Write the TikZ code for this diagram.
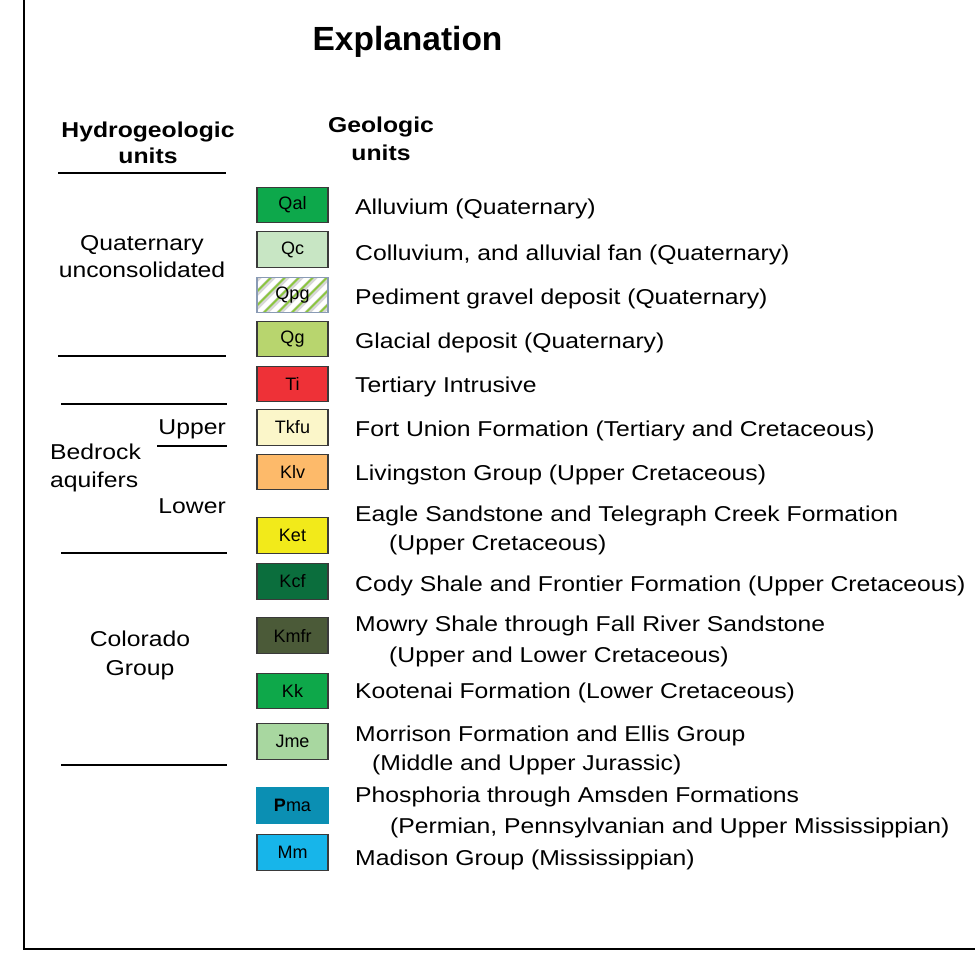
\documentclass[tikz,border=0pt]{standalone}
\usepackage{fontspec}
\setmainfont{Liberation Sans}
\newfontfamily\bodyfont{Liberation Sans}[FakeStretch=1.15]
\newfontfamily\plainfont{Liberation Sans}
\definecolor{boxedge}{HTML}{3A3A3A}
\definecolor{cQal}{HTML}{0DA84B}
\definecolor{cQc}{HTML}{C8E6C4}
\definecolor{cQpg}{HTML}{D6D6D6}
\definecolor{cQpgedge}{HTML}{8A9BB5}
\definecolor{cQpggreen}{HTML}{8CC63F}
\definecolor{cQg}{HTML}{B8D56E}
\definecolor{cTi}{HTML}{EE3137}
\definecolor{cTkfu}{HTML}{FBF6C9}
\definecolor{cKlv}{HTML}{FDBA6A}
\definecolor{cKet}{HTML}{F2EA1A}
\definecolor{cKcf}{HTML}{0B6E3D}
\definecolor{cKmfr}{HTML}{4B5A38}
\definecolor{cKk}{HTML}{0EA84A}
\definecolor{cJme}{HTML}{A8D7A0}
\definecolor{cPma}{HTML}{0B8FB3}
\definecolor{cMm}{HTML}{17B5EA}
\begin{document}
\begin{tikzpicture}[x=1pt,y=-1pt,
  unitbox/.style={draw=boxedge, line width=1.1pt, minimum width=71pt, minimum height=35.5pt, inner sep=0pt, font=\plainfont\fontsize{18}{20}\selectfont},
  lbl/.style={anchor=base west, inner sep=0pt, font=\bodyfont\fontsize{21.5}{26}\selectfont},
  side/.style={anchor=base, inner sep=0pt, font=\bodyfont\fontsize{21.5}{26}\selectfont},
  hdr/.style={anchor=base, inner sep=0pt, font=\bodyfont\bfseries\fontsize{21.5}{26}\selectfont},
  rulel/.style={line width=2.4pt}]
\useasboundingbox (0,0) rectangle (975,961);
\fill[white] (0,0) rectangle (975,961);
% frame
\draw[line width=2.6pt] (24,-3) -- (24,949) -- (978,949);
% title and headers
\node[anchor=base, inner sep=0pt, font=\plainfont\bfseries\fontsize{33.5}{40}\selectfont] (title) at (407.5,50) {Explanation};
\node[hdr] (hyd1) at (148,137) {Hydrogeologic};
\node[hdr] (hyd2) at (148,163) {units};
\node[hdr] (geo1) at (381,132) {Geologic};
\node[hdr] (geo2) at (381,160) {units};
% rules
\draw[rulel] (58,173) -- (226,173);
\draw[rulel] (58,356) -- (226,356);
\draw[rulel] (61,404) -- (227,404);
\draw[rulel] (157,446) -- (227,446);
\draw[rulel] (61,553) -- (227,553);
\draw[rulel] (61,765) -- (227,765);
% left labels
\node[side] (quat1) at (142,250) {Quaternary};
\node[side] (quat2) at (142,277) {unconsolidated};
\node[lbl, anchor=base east] (upper) at (226,434) {Upper};
\node[lbl] (bed1) at (50,459) {Bedrock};
\node[lbl] (bed2) at (50,487) {aquifers};
\node[lbl, anchor=base east] (lower) at (226,513) {Lower};
\node[side] (col1) at (140,646) {Colorado};
\node[side] (col2) at (140,675) {Group};
% boxes
\node[unitbox, fill=cQal] (qal) at (292.5,205) {Qal};
\node[unitbox, fill=cQc] (qc) at (292.5,249.5) {Qc};
\fill[cQpg] (257,277.25) rectangle (328,312.75);
\begin{scope}
  \clip (257,277.25) rectangle (328,312.75);
  \foreach \s in {-42,-28,...,84} {
    \draw[white, line width=4.5pt] (257+\s,314) -- ++(38,-38);
    \draw[cQpggreen, line width=1.8pt] (257+\s+5.5,314) -- ++(38,-38);
  }
\end{scope}
\node[unitbox, draw=cQpgedge] (qpg) at (292.5,295) {Qpg};
\node[unitbox, fill=cQg] (qg) at (292.5,339) {Qg};
\node[unitbox, fill=cTi] (ti) at (292.5,384) {Ti};
\node[unitbox, fill=cTkfu] (tkfu) at (292.5,427.5) {Tkfu};
\node[unitbox, fill=cKlv] (klv) at (292.5,472) {Klv};
\node[unitbox, fill=cKet] (ket) at (292.5,535.5) {Ket};
\node[unitbox, fill=cKcf] (kcf) at (292.5,581.5) {Kcf};
\node[unitbox, fill=cKmfr] (kmfr) at (292.5,635.5) {Kmfr};
\node[unitbox, fill=cKk] (kk) at (292.5,691) {Kk};
\node[unitbox, fill=cJme] (jme) at (292.5,741.5) {Jme};
\node[unitbox, fill=cPma, draw=cPma] (pma) at (292.5,805.5) {{\bfseries P}ma};
\node[unitbox, fill=cMm] (mm) at (292.5,852.5) {Mm};
% descriptions
\node[lbl] (tqal) at (355,214) {Alluvium (Quaternary)};
\node[lbl] (tqc) at (355,260) {Colluvium, and alluvial fan (Quaternary)};
\node[lbl] (tqpg) at (355,304) {Pediment gravel deposit (Quaternary)};
\node[lbl] (tqg) at (355,348) {Glacial deposit (Quaternary)};
\node[lbl] (tti) at (355,392) {Tertiary Intrusive};
\node[lbl] (ttkfu) at (355,436) {Fort Union Formation (Tertiary and Cretaceous)};
\node[lbl] (tklv) at (355,480) {Livingston Group (Upper Cretaceous)};
\node[lbl] (tket1) at (355,521) {Eagle Sandstone and Telegraph Creek Formation};
\node[lbl] (tket2) at (389,550) {(Upper Cretaceous)};
\node[lbl] (tkcf) at (355,591) {Cody Shale and Frontier Formation (Upper Cretaceous)};
\node[lbl] (tkmfr1) at (355,631) {Mowry Shale through Fall River Sandstone};
\node[lbl] (tkmfr2) at (389,662) {(Upper and Lower Cretaceous)};
\node[lbl] (tkk) at (355,698) {Kootenai Formation (Lower Cretaceous)};
\node[lbl] (tjme1) at (355,741) {Morrison Formation and Ellis Group};
\node[lbl] (tjme2) at (372,770) {(Middle and Upper Jurassic)};
\node[lbl] (tpma1) at (355,802) {Phosphoria through Amsden Formations};
\node[lbl] (tpma2) at (390,833) {(Permian, Pennsylvanian and Upper Mississippian)};
\node[lbl] (tmm) at (355,865) {Madison Group (Mississippian)};
\end{tikzpicture}
\end{document}
